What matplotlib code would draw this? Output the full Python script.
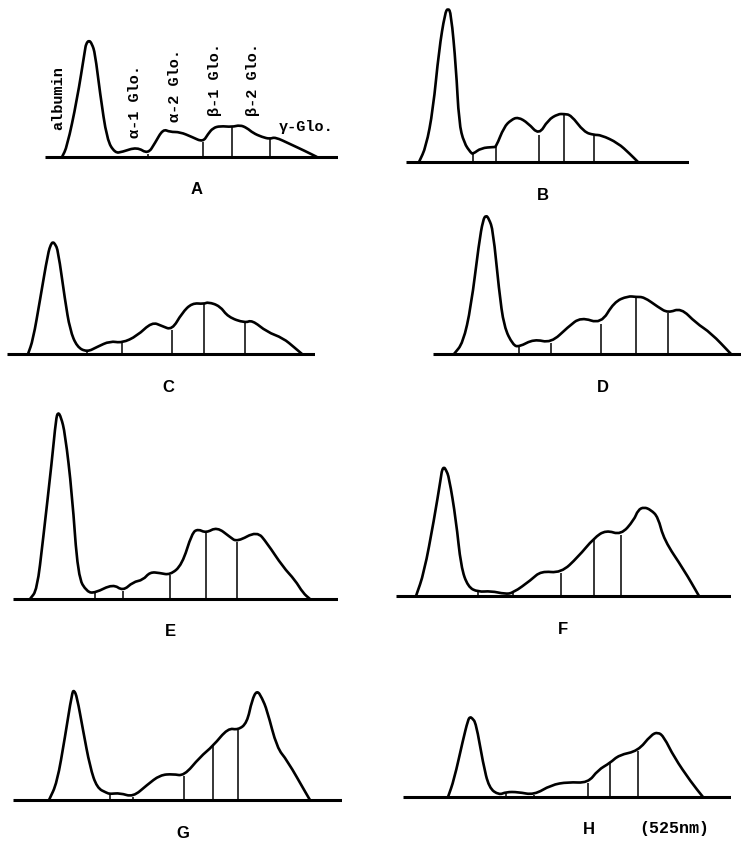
import numpy as np
import matplotlib.pyplot as plt
from matplotlib.path import Path
from matplotlib.patches import PathPatch

plt.rcParams['font.family'] = ['Liberation Mono', 'DejaVu Sans Mono']

# densitometer traces: x = distance along the strip, y = absorbance (both)

# A
a_x = [17, 22, 32, 40, 41, 44, 47, 50, 55, 62, 70, 77, 92, 103, 110, 118, 125, 135, 147, 158,
       163, 168, 175, 187, 195, 202, 208, 217, 225, 230, 245, 260, 272]
a_y = [0, 10, 57, 107, 113, 117, 113, 104, 64, 17, 4, 5, 10, 3, 14, 28, 25, 25, 20, 15,
       23, 29, 31, 30, 32, 29, 24, 20, 18, 20, 13, 6, 0]
a_div = [103, 158, 187, 225]

# B
b_x = [13, 20, 27, 33, 39, 42, 45, 50, 53, 58, 65, 67, 75, 88, 90, 98, 105, 112, 122,
       133, 142, 152, 158, 165, 178, 188, 195, 212, 224, 232]
b_y = [0, 15, 52, 112, 149, 154, 149, 95, 39, 19, 9, 8, 14, 15, 15, 35, 42, 45, 39,
       27, 42, 48, 48, 47, 30, 27, 27, 19, 8, 0]
b_div = [67, 90, 133, 158, 188]

# C
c_x = [21, 26, 33, 41, 44, 46, 48, 51, 58, 63, 70, 80, 90, 103, 115, 130, 145, 155, 165, 175,
       185, 197, 201, 213, 221, 238, 245, 260, 276, 288, 295]
c_y = [0, 14, 54, 101, 110, 112, 110, 104, 54, 24, 7, 2, 7, 13, 11, 18, 32, 28, 24, 41,
       51, 50, 52, 48, 37, 31, 34, 22, 16, 6, 0]
c_div = [80, 115, 165, 197, 238]

# D
d_x = [21, 30, 38, 46, 50, 53, 56, 60, 66, 71, 80, 86, 101, 118, 135, 148, 168, 181, 195, 203,
       211, 225, 235, 248, 263, 278, 298]
d_y = [0, 11, 47, 111, 134, 139, 135, 124, 64, 27, 9, 7, 15, 11, 27, 37, 30, 52, 58, 57,
       57, 47, 41, 46, 31, 21, 0]
d_div = [86, 118, 168, 203, 235]

# E
e_x = [17, 24, 30, 39, 43, 45, 48, 52, 59, 65, 74, 82, 100, 110, 120, 130, 137, 147, 157, 169,
       179, 185, 193, 204, 217, 224, 244, 254, 270, 282, 290, 297]
e_y = [0, 9, 59, 139, 180, 187, 182, 166, 106, 22, 7, 6, 15, 8, 17, 19, 27, 26, 24, 34,
       66, 70, 66, 72, 62, 57, 68, 56, 32, 19, 6, 0]
e_div = [82, 110, 157, 193, 224]

# F
f_x = [20, 28, 38, 45, 46, 48, 50, 53, 60, 65, 72, 82, 95, 109, 117, 135, 145, 165, 182, 198,
       210, 225, 238, 242, 248, 255, 262, 268, 288, 303]
f_y = [0, 23, 76, 119, 126, 129, 126, 119, 76, 29, 9, 4, 5, 2, 3, 16, 25, 23, 39, 58,
       66, 61, 76, 86, 89, 86, 79, 56, 26, 0]
f_div = [82, 117, 165, 198, 225]

# G
g_x = [36, 44, 52, 59, 61, 64, 70, 77, 84, 94, 97, 107, 120, 134, 147, 160, 171, 187,
       200, 215, 225, 234, 239, 244, 249, 254, 264, 274, 294, 297]
g_y = [0, 17, 63, 107, 110, 103, 70, 33, 12, 7, 6, 7, 3, 15, 25, 26, 24, 43,
       54, 72, 70, 77, 100, 110, 102, 90, 52, 40, 5, 0]
g_div = [97, 120, 171, 200, 225]

# H
h_x = [45, 51, 60, 65, 67, 69, 73, 80, 86, 96, 103, 115, 131, 148, 165, 185, 195, 207, 216, 235,
       248, 255, 261, 271, 288, 300]
h_y = [0, 17, 57, 77, 80, 79, 74, 34, 9, 2, 5, 5, 2, 12, 15, 14, 27, 34, 42, 46,
       62, 65, 60, 40, 15, 0]
h_div = [103, 131, 185, 207, 235]

panel_labels = ['A', 'B', 'C', 'D', 'E', 'F', 'G', 'H']
band_names = ['albumin', 'α-1 Glo.', 'α-2 Glo.', 'β-1 Glo.', 'β-2 Glo.']

W, H = 742, 841
fig = plt.figure(figsize=(W / 100, H / 100), dpi=100)


def smooth_path(xs, ys):
    # quadratic bezier through the midpoints, the read points act as control points
    pts = np.column_stack([xs, ys]).astype(float)
    verts = [pts[0], (pts[0] + pts[1]) / 2]
    codes = [Path.MOVETO, Path.LINETO]
    for i in range(1, len(pts) - 1):
        verts += [pts[i], (pts[i] + pts[i + 1]) / 2]
        codes += [Path.CURVE3, Path.CURVE3]
    verts.append(pts[-1])
    codes.append(Path.LINETO)
    return Path(verts, codes)


def trace(x0, base, length, xs, ys, divs, label, label_x):
    # one strip: axes in pixel-sized units so every panel has the same scale
    ax = fig.add_axes([x0 / W, (H - base - 45) / H, length / W, 245 / H])
    ax.set_xlim(0, length)
    ax.set_ylim(-45, 200)
    ax.axis('off')
    ax.patch.set_alpha(0)
    ax.plot([0, length], [0, 0], color='black', lw=2.2, solid_capstyle='butt')
    ax.add_patch(PathPatch(smooth_path(xs, ys), facecolor='none', edgecolor='black',
                           lw=1.9, joinstyle='round'))
    tops = np.interp(divs, xs, ys)
    ax.vlines(divs, 0, tops, color='black', lw=1.1)
    ax.text(label_x, -33, label, ha='center', va='center', fontsize=12,
            fontweight='bold', family='Liberation Sans')
    return ax


axA = trace(45, 157, 293, a_x, a_y, a_div, panel_labels[0], 152)
trace(406, 162, 283, b_x, b_y, b_div, panel_labels[1], 137)
trace(7, 354, 308, c_x, c_y, c_div, panel_labels[2], 161)
trace(433, 354, 308, d_x, d_y, d_div, panel_labels[3], 170)
trace(13, 599, 325, e_x, e_y, e_div, panel_labels[4], 157)
trace(396, 596, 335, f_x, f_y, f_div, panel_labels[5], 167)
trace(13, 800, 329, g_x, g_y, g_div, panel_labels[6], 170)
axH = trace(403, 797, 328, h_x, h_y, h_div, panel_labels[7], 186)

# band names on panel A
for name, px, py in zip(band_names, [13, 90, 130, 170, 208], [59, 55, 72, 77, 77]):
    axA.text(px, py, name, rotation=90, ha='center', va='center',
             fontsize=11, fontweight='bold')
axA.text(261, 30, 'γ-Glo.', ha='center', va='center', fontsize=11, fontweight='bold')

axH.text(271, -31, '(525nm)', ha='center', va='center', fontsize=12, fontweight='bold')

plt.savefig('out.png', dpi=100)
